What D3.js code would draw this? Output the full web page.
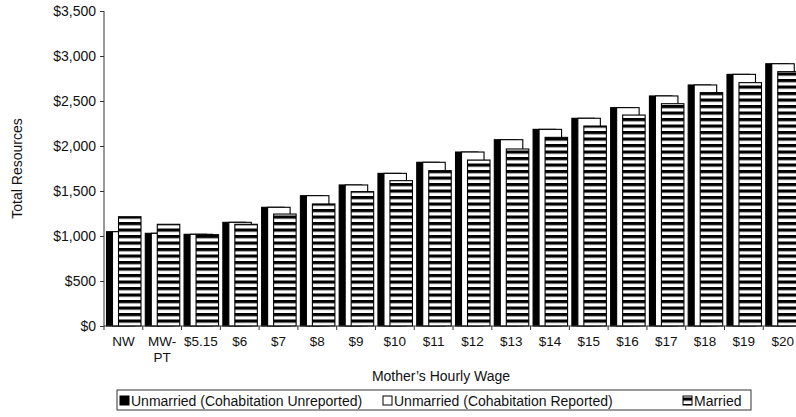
<!DOCTYPE html>
<html>
<head>
<meta charset="utf-8">
<script src="https://cdn.jsdelivr.net/npm/d3@7/dist/d3.min.js"></script>
<style>
  body { margin: 0; background: #fff; }
  svg { display: block; font-family: "Liberation Sans", Arial, sans-serif; }
</style>
</head>
<body>
<div id="chart"></div>
<script>
// wage categories and the three series (monthly total resources, $)
var categories = ["NW", "MW-PT", "$5.15", "$6", "$7", "$8", "$9", "$10", "$11",
  "$12", "$13", "$14", "$15", "$16", "$17", "$18", "$19", "$20"];
var unreported = [1048, 1030, 1019, 1152, 1319, 1448, 1567, 1696, 1819,
  1933, 2070, 2185, 2308, 2426, 2556, 2678, 2796, 2914];
var reported = [1048, 1030, 1019, 1152, 1319, 1448, 1567, 1696, 1819,
  1933, 2070, 2185, 2308, 2426, 2556, 2678, 2796, 2914];
var married = [1214, 1130, 1015, 1130, 1244, 1356, 1493, 1615, 1726,
  1844, 1967, 2096, 2222, 2344, 2470, 2593, 2704, 2826];
var seriesNames = ["Unmarried (Cohabitation Unreported)", "Unmarried (Cohabitation Reported)", "Married"];
var yTicks = [0, 500, 1000, 1500, 2000, 2500, 3000, 3500];

var width = 796, height = 417;
var margin = {top: 11, left: 104, bottom: 91};
var plotBottom = height - margin.bottom;

var svg = d3.select("#chart").append("svg")
  .attr("width", width)
  .attr("height", height);

// stripe pattern for the married bars, anchored to the baseline
var defs = svg.append("defs");
var stripe = defs.append("pattern")
  .attr("id", "stripes")
  .attr("patternUnits", "userSpaceOnUse")
  .attr("x", 0).attr("y", plotBottom)
  .attr("width", 8).attr("height", 6.5);
stripe.append("rect").attr("width", 8).attr("height", 6.5).attr("fill", "#fff");
stripe.append("rect").attr("y", 0).attr("width", 8).attr("height", 3.2).attr("fill", "#000");

var x = d3.scaleBand()
  .domain(categories)
  .range([margin.left, margin.left + 18 * 38.78])
  .padding(0);

// bars overlap inside a group, so offsets come from a point scale
var offset = d3.scalePoint()
  .domain(seriesNames)
  .range([2.5, 14.5]);
var barW = 22.5;

var y = d3.scaleLinear()
  .domain([0, 3500])
  .range([plotBottom, margin.top]);

var series = [
  {name: seriesNames[0], values: unreported, fill: "#000"},
  {name: seriesNames[1], values: reported, fill: "#fff"},
  {name: seriesNames[2], values: married, fill: "url(#stripes)"}
];

// bars
series.forEach(function(s) {
  svg.append("g").selectAll("rect")
    .data(s.values)
    .enter().append("rect")
    .attr("x", function(d, i) { return x(categories[i]) + offset(s.name); })
    .attr("y", function(d) { return y(d); })
    .attr("width", barW)
    .attr("height", function(d) { return y(0) - y(d); })
    .attr("fill", s.fill)
    .attr("stroke", "#000")
    .attr("stroke-width", 1.1);
});

// y axis
var yAxis = svg.append("g")
  .attr("transform", "translate(" + margin.left + ",0)")
  .call(d3.axisLeft(y)
    .tickValues(yTicks)
    .tickSize(4)
    .tickPadding(4)
    .tickFormat(function(d) { return "$" + d3.format(",")(d); }));
yAxis.selectAll("text").attr("font-size", 14).attr("fill", "#111");
yAxis.selectAll("line,path").attr("stroke", "#333");
yAxis.select(".domain").attr("d", "M0," + y(3500) + "V" + y(0));

// x axis: ticks at the category boundaries, labels centred
var xAxis = svg.append("g")
  .attr("transform", "translate(0," + plotBottom + ")")
  .call(d3.axisBottom(x).tickSize(0).tickPadding(10));
xAxis.select(".domain").attr("stroke", "#333")
  .attr("d", "M" + margin.left + ",0H" + width);
xAxis.selectAll(".tick text")
  .attr("font-size", 13.5).attr("fill", "#111")
  .each(function(d) {
    if (d === "MW-PT") {
      // wrap onto two lines as in the source
      d3.select(this).text("MW-");
      d3.select(this.parentNode).append("text")
        .attr("y", 26).attr("dy", "0.71em")
        .attr("font-size", 13.5).attr("fill", "#111")
        .text("PT");
    }
  });
xAxis.selectAll(".bound")
  .data(categories)
  .enter().append("line")
  .attr("class", "bound")
  .attr("x1", function(d) { return x(d); })
  .attr("x2", function(d) { return x(d); })
  .attr("y1", 0).attr("y2", 4)
  .attr("stroke", "#333");

// axis titles
svg.append("text")
  .attr("transform", "translate(22," + ((margin.top + plotBottom) / 2) + ") rotate(-90)")
  .attr("text-anchor", "middle")
  .attr("font-size", 14)
  .attr("fill", "#111")
  .text("Total Resources");

svg.append("text")
  .attr("x", 441).attr("y", 381)
  .attr("text-anchor", "middle")
  .attr("font-size", 14)
  .attr("fill", "#111")
  .text("Mother\u2019s Hourly Wage");

// legend
var legend = svg.append("g").attr("transform", "translate(117,390)");
legend.append("rect")
  .attr("width", 634).attr("height", 20)
  .attr("fill", "#fff").attr("stroke", "#333");
var legendX = [3, 266, 566];
series.forEach(function(s, i) {
  var item = legend.append("g").attr("transform", "translate(" + legendX[i] + ",0)");
  item.append("rect")
    .attr("x", 0).attr("y", 6).attr("width", 9).attr("height", 9)
    .attr("fill", s.fill).attr("stroke", "#000");
  item.append("text")
    .attr("x", 11).attr("y", 15.5)
    .attr("font-size", 14).attr("fill", "#111")
    .text(s.name);
});
</script>
</body>
</html>
